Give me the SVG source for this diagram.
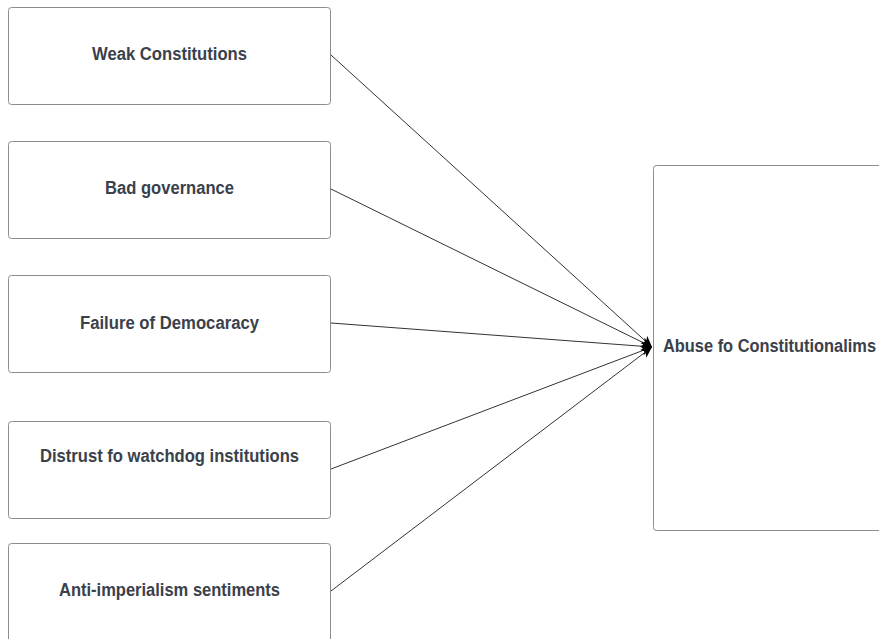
<svg xmlns="http://www.w3.org/2000/svg" width="879" height="639" viewBox="0 0 879 639">
<style>
.box{fill:#ffffff;stroke:#8a8d91;stroke-width:1}
.lbl{font-family:"Liberation Sans",Arial,sans-serif;font-weight:bold;font-size:18px;fill:#3a414b}
.edge{stroke:#333333;stroke-width:1;fill:none;marker-end:url(#ah)}
</style>
<defs>
<marker id="ah" viewBox="0 0 12 12" refX="11" refY="6" markerWidth="12" markerHeight="12" markerUnits="userSpaceOnUse" orient="auto">
<path d="M0,1 L11,6 L0,11 L3,6 Z" fill="#000000"/>
</marker>
</defs>
<rect width="879" height="639" fill="#ffffff"/>
<g id="connectors">
<line class="edge" x1="331" y1="55" x2="652" y2="347"/>
<line class="edge" x1="331" y1="189" x2="652" y2="347"/>
<line class="edge" x1="331" y1="323" x2="652" y2="347"/>
<line class="edge" x1="331" y1="469" x2="652" y2="347"/>
<line class="edge" x1="331" y1="591" x2="652" y2="347"/>
</g>
<g id="n1"><rect class="box" x="8.5" y="7.5" width="322" height="97" rx="3"/><text class="lbl" x="92" y="60" textLength="155" lengthAdjust="spacingAndGlyphs">Weak Constitutions</text></g>
<g id="n2"><rect class="box" x="8.5" y="141.5" width="322" height="97" rx="3"/><text class="lbl" x="105" y="194" textLength="129" lengthAdjust="spacingAndGlyphs">Bad governance</text></g>
<g id="n3"><rect class="box" x="8.5" y="275.5" width="322" height="97" rx="3"/><text class="lbl" x="80" y="329" textLength="179" lengthAdjust="spacingAndGlyphs">Failure of Democaracy</text></g>
<g id="n4"><rect class="box" x="8.5" y="421.5" width="322" height="97" rx="3"/><text class="lbl" x="40" y="462" textLength="259" lengthAdjust="spacingAndGlyphs">Distrust fo watchdog institutions</text></g>
<g id="n5"><rect class="box" x="8.5" y="543.5" width="322" height="110" rx="3"/><text class="lbl" x="59" y="596" textLength="221" lengthAdjust="spacingAndGlyphs">Anti-imperialism sentiments</text></g>
<g id="n6"><rect class="box" x="653.5" y="165.5" width="240" height="365" rx="3"/><text class="lbl" x="663" y="352" textLength="213" lengthAdjust="spacingAndGlyphs">Abuse fo Constitutionalims</text></g>
</svg>
